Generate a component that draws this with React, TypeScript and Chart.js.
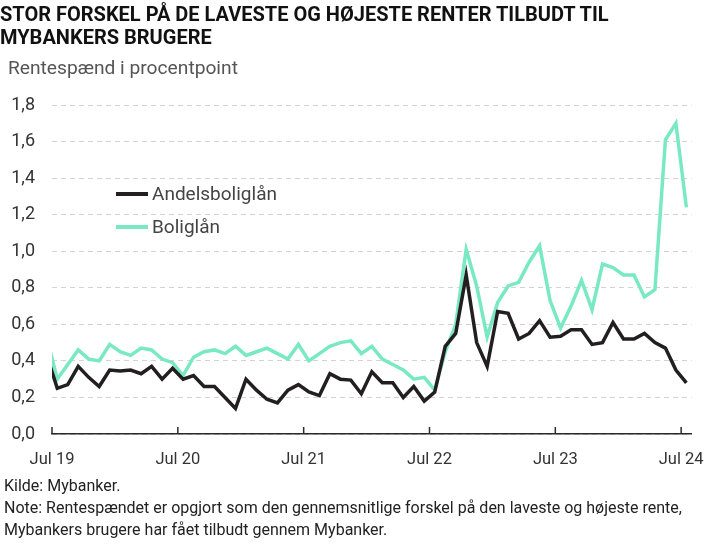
import React, { useEffect, useRef } from "react";
import { Chart, registerables } from "chart.js";

Chart.register(...registerables);

const FONT = "Roboto, 'Noto Sans', sans-serif";

const titleLines = [
  "STOR FORSKEL PÅ DE LAVESTE OG HØJESTE RENTER TILBUDT TIL",
  "MYBANKERS BRUGERE",
];
const subtitle = "Rentespænd i procentpoint";
const footnotes = [
  "Kilde: Mybanker.",
  "Note: Rentespændet er opgjort som den gennemsnitlige forskel på den laveste og højeste rente,",
  "Mybankers brugere har fået tilbudt gennem Mybanker.",
];

const seriesNames = ["Andelsboliglån", "Boliglån"];

// Monthly values, Jun 2019 (only partly visible at the left edge) to Jul 2024
const andelsboliglaan = [
  0.43,
  0.25, 0.27, 0.37, 0.31, 0.26, 0.35, 0.345, 0.35, 0.33, 0.37, 0.30, 0.36,
  0.30, 0.32, 0.26, 0.26, 0.20, 0.14, 0.30, 0.24, 0.19, 0.17, 0.24, 0.27,
  0.23, 0.21, 0.33, 0.30, 0.295, 0.22, 0.34, 0.28, 0.28, 0.20, 0.26, 0.18,
  0.23, 0.48, 0.55, 0.87, 0.50, 0.37, 0.67, 0.66, 0.52, 0.55, 0.62, 0.53,
  0.535, 0.57, 0.57, 0.49, 0.50, 0.61, 0.52, 0.52, 0.55, 0.50, 0.47, 0.35,
  0.28,
];
const boliglaan = [
  0.53,
  0.30, 0.38, 0.46, 0.41, 0.40, 0.49, 0.45, 0.43, 0.47, 0.46, 0.41, 0.39,
  0.32, 0.42, 0.45, 0.46, 0.44, 0.48, 0.43, 0.45, 0.47, 0.44, 0.41, 0.49,
  0.40, 0.44, 0.48, 0.50, 0.51, 0.44, 0.48, 0.41, 0.38, 0.35, 0.30, 0.31,
  0.24, 0.45, 0.60, 1.01, 0.81, 0.53, 0.72, 0.81, 0.83, 0.94, 1.03, 0.73,
  0.58, 0.70, 0.84, 0.68, 0.93, 0.91, 0.87, 0.87, 0.75, 0.79, 1.61, 1.70,
  1.24,
];

// x-axis: months counted from the start of July 2019
const xTickValues = [0, 12, 24, 36, 48, 60];
const xTickLabels = ["Jul 19", "Jul 20", "Jul 21", "Jul 22", "Jul 23", "Jul 24"];
const xMax = 61;
const yTicksMax = 1.8;
const yStep = 0.2;

const colors = { andel: "#231f20", bolig: "#78e9c3" };

// index 0 = June 2019, plotted at mid-month
const toPoints = (vals: number[]) => vals.map((v, i) => ({ x: i - 0.5, y: v }));

const innerTicks = {
  id: "innerTicks",
  afterDraw(chart: any) {
    const { ctx, chartArea, scales } = chart;
    const x = scales.x;
    ctx.save();
    ctx.strokeStyle = "#2b2b2b";
    ctx.lineWidth = 1.5;
    x.ticks.forEach((t: any) => {
      const px = x.getPixelForValue(t.value);
      ctx.beginPath();
      ctx.moveTo(px, chartArea.bottom);
      ctx.lineTo(px, chartArea.bottom - 7);
      ctx.stroke();
    });
    ctx.restore();
  },
};

export default function App() {
  const ref = useRef<HTMLCanvasElement | null>(null);

  useEffect(() => {
    if (!ref.current) return;
    const chart = new Chart(ref.current, {
      type: "line",
      data: {
        datasets: [
          {
            label: seriesNames[0],
            data: toPoints(andelsboliglaan),
            borderColor: colors.andel,
            backgroundColor: colors.andel,
            borderWidth: 3.5,
            pointRadius: 0,
            tension: 0,
            clip: 0,
          },
          {
            label: seriesNames[1],
            data: toPoints(boliglaan),
            borderColor: colors.bolig,
            backgroundColor: colors.bolig,
            borderWidth: 3.5,
            pointRadius: 0,
            tension: 0,
            clip: 0,
          },
        ],
      },
      options: {
        responsive: false,
        maintainAspectRatio: false,
        animation: false,
        events: [],
        layout: { padding: { left: 8, right: 26, top: 105, bottom: 80 } },
        plugins: {
          legend: { display: false },
          tooltip: { enabled: false },
        },
        scales: {
          x: {
            type: "linear",
            min: 0,
            max: xMax,
            afterBuildTicks: (s: any) => {
              s.ticks = xTickValues.map((v) => ({ value: v }));
            },
            afterFit: (s: any) => {
              s.height = 30;
            },
            ticks: {
              autoSkip: false,
              maxRotation: 0,
              padding: 16,
              color: "#333333",
              font: { family: FONT, size: 16.5 },
              callback: (v: any) => {
                const i = xTickValues.indexOf(Number(v));
                return i >= 0 ? xTickLabels[i] : "";
              },
            },
            grid: { display: false, drawTicks: false },
            border: { display: true, color: "#2b2b2b", width: 1.5 },
          },
          y: {
            min: 0,
            max: yTicksMax,
            afterFit: (s: any) => {
              s.width = 44;
            },
            ticks: {
              stepSize: yStep,
              padding: 17,
              color: "#333333",
              font: { family: FONT, size: 18 },
              callback: (v: any) => Number(v).toFixed(1).replace(".", ","),
            },
            grid: { color: "#d3d3d3", lineWidth: 1, drawTicks: false },
            border: { display: false, dash: [5, 4] },
          },
        },
      },
      plugins: [innerTicks],
    });
    return () => chart.destroy();
  }, []);

  const legendRow = (top: number, color: string, text: string) => (
    <div
      style={{
        position: "absolute",
        left: 116,
        top: top - 11,
        height: 22,
        display: "flex",
        alignItems: "center",
      }}
    >
      <div style={{ width: 32, height: 4, background: color }} />
      <span style={{ marginLeft: 4, fontSize: 19, color: "#444", lineHeight: "22px" }}>{text}</span>
    </div>
  );

  return (
    <div
      style={{
        position: "absolute",
        left: 0,
        top: 0,
        width: 720,
        height: 544,
        background: "#ffffff",
        fontFamily: FONT,
        overflow: "hidden",
      }}
    >
      <canvas
        ref={ref}
        width={720}
        height={544}
        style={{ position: "absolute", left: 0, top: 0, width: 720, height: 544 }}
      />
      <div
        style={{
          position: "absolute",
          left: 0,
          top: 3,
          fontWeight: 700,
          fontSize: 20,
          lineHeight: "23px",
          color: "#111",
          whiteSpace: "nowrap",
        }}
      >
        {titleLines.map((t, i) => (
          <div key={i}>{t}</div>
        ))}
      </div>
      <div
        style={{
          position: "absolute",
          left: 8,
          top: 57,
          fontSize: 19.2,
          lineHeight: "22px",
          color: "#555",
          whiteSpace: "nowrap",
        }}
      >
        {subtitle}
      </div>
      {legendRow(194, colors.andel, seriesNames[0])}
      {legendRow(227, colors.bolig, seriesNames[1])}
      <div
        style={{
          position: "absolute",
          left: 4,
          top: 475,
          fontSize: 16,
          lineHeight: "22px",
          color: "#222",
          whiteSpace: "nowrap",
        }}
      >
        {footnotes.map((t, i) => (
          <div key={i}>{t}</div>
        ))}
      </div>
    </div>
  );
}
